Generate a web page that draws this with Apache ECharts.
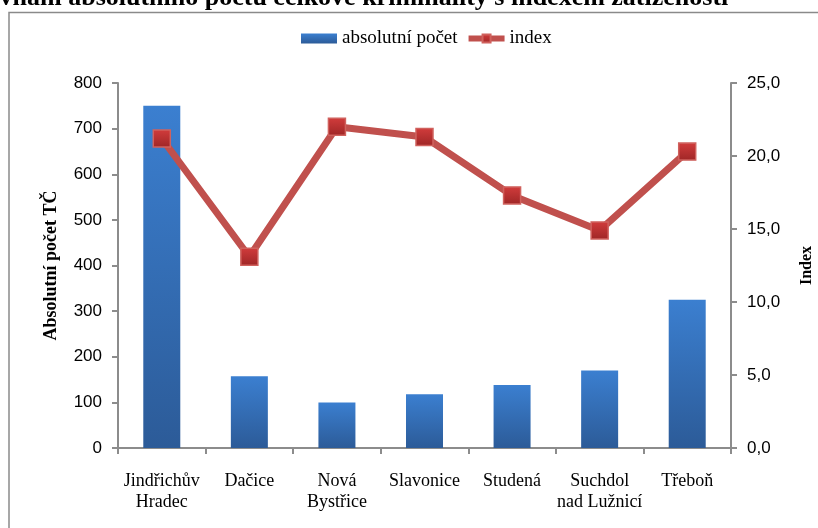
<!DOCTYPE html>
<html>
<head>
<meta charset="utf-8">
<script src="https://cdn.jsdelivr.net/npm/echarts@6/dist/echarts.min.js"></script>
<style>
    html, body { margin: 0; padding: 0; background: #fff; }
    #chart { width: 818px; height: 528px; }
</style>
</head>
<body>
<div id="chart"></div>
<script>
const categories = ['Jindřichův\nHradec', 'Dačice', 'Nová\nBystřice', 'Slavonice', 'Studená', 'Suchdol\nnad Lužnicí', 'Třeboň'];
const absolutniPocet = [750, 157, 100, 118, 138, 170, 325];
const indexValues = [21.2, 13.1, 22.0, 21.3, 17.3, 14.9, 20.3];
const leftTicks = [0, 800, 100];
const rightTicks = [0, 25, 5];

const serif = '"Liberation Serif", "DejaVu Serif", serif';
const sans = '"Liberation Sans", Arial, sans-serif';
const axisGray = '#8c8c8c';

const chart = echarts.init(document.getElementById('chart'));

const markerFill = new echarts.graphic.LinearGradient(0, 0, 0, 1, [
    { offset: 0, color: '#d23c3c' },
    { offset: 1, color: '#9e2626' }
]);

const option = {
    animation: false,
    title: {
        text: 'Srovnání absolutního počtu celkové kriminality s indexem zatíženosti',
        left: -44,
        top: -20,
        textStyle: { fontFamily: serif, fontWeight: 'bold', fontSize: 26, color: '#000' }
    },
    graphic: [{
        type: 'rect',
        shape: { x: 9, y: 12.5, width: 830, height: 530 },
        style: { fill: null, stroke: '#8a8a8a', lineWidth: 1.5 },
        silent: true
    }],
    legend: {
        top: 24,
        left: 296,
        itemGap: 8,
        itemWidth: 36,
        itemHeight: 10,
        textStyle: { fontFamily: serif, fontSize: 19, color: '#000' },
        data: [
            { name: 'absolutní počet', icon: 'rect' },
            { name: 'index', lineStyle: { width: 6 } }
        ]
    },
    grid: { left: 118, right: 87, top: 83, bottom: 80, outerBoundsMode: 'none' },
    xAxis: {
        type: 'category',
        data: categories,
        axisLine: { lineStyle: { color: axisGray, width: 2 } },
        axisTick: { show: true, length: 6, lineStyle: { color: axisGray, width: 2 } },
        axisLabel: { fontFamily: serif, fontSize: 18, color: '#000', margin: 23, lineHeight: 21, interval: 0 }
    },
    yAxis: [
        {
            type: 'value',
            min: leftTicks[0], max: leftTicks[1], interval: leftTicks[2],
            name: 'Absolutní počet TČ',
            nameLocation: 'middle',
            nameGap: 58,
            nameTextStyle: { fontFamily: serif, fontWeight: 'bold', fontSize: 18, color: '#000' },
            axisLine: { show: true, lineStyle: { color: axisGray, width: 2 } },
            axisTick: { show: true, length: 6, lineStyle: { color: axisGray, width: 2 } },
            axisLabel: { fontFamily: sans, fontSize: 17, color: '#000', margin: 16 },
            splitLine: { show: false }
        },
        {
            type: 'value',
            min: rightTicks[0], max: rightTicks[1], interval: rightTicks[2],
            name: 'Index',
            nameLocation: 'middle',
            nameGap: 68,
            nameTextStyle: { fontFamily: serif, fontWeight: 'bold', fontSize: 16, color: '#000' },
            axisLine: { show: true, lineStyle: { color: axisGray, width: 2 } },
            axisTick: { show: true, length: 6, lineStyle: { color: axisGray, width: 2 } },
            axisLabel: {
                fontFamily: sans, fontSize: 17, color: '#000', margin: 16,
                formatter: v => v.toFixed(1).replace('.', ',')
            },
            splitLine: { show: false }
        }
    ],
    series: [
        {
            name: 'absolutní počet',
            type: 'bar',
            data: absolutniPocet,
            barWidth: 37,
            itemStyle: {
                color: new echarts.graphic.LinearGradient(0, 0, 0, 1, [
                    { offset: 0, color: '#3b7fd0' },
                    { offset: 1, color: '#2c5b98' }
                ])
            }
        },
        {
            name: 'index',
            type: 'line',
            yAxisIndex: 1,
            data: indexValues,
            symbol: 'rect',
            symbolSize: 17,
            lineStyle: { color: '#c0504d', width: 7 },
            itemStyle: {
                color: markerFill,
                borderColor: '#d0615d',
                borderWidth: 1.5
            },
            z: 3
        }
    ]
};

chart.setOption(option);

window.addEventListener('resize', function () {
    chart.resize();
});
</script>
</body>
</html>
